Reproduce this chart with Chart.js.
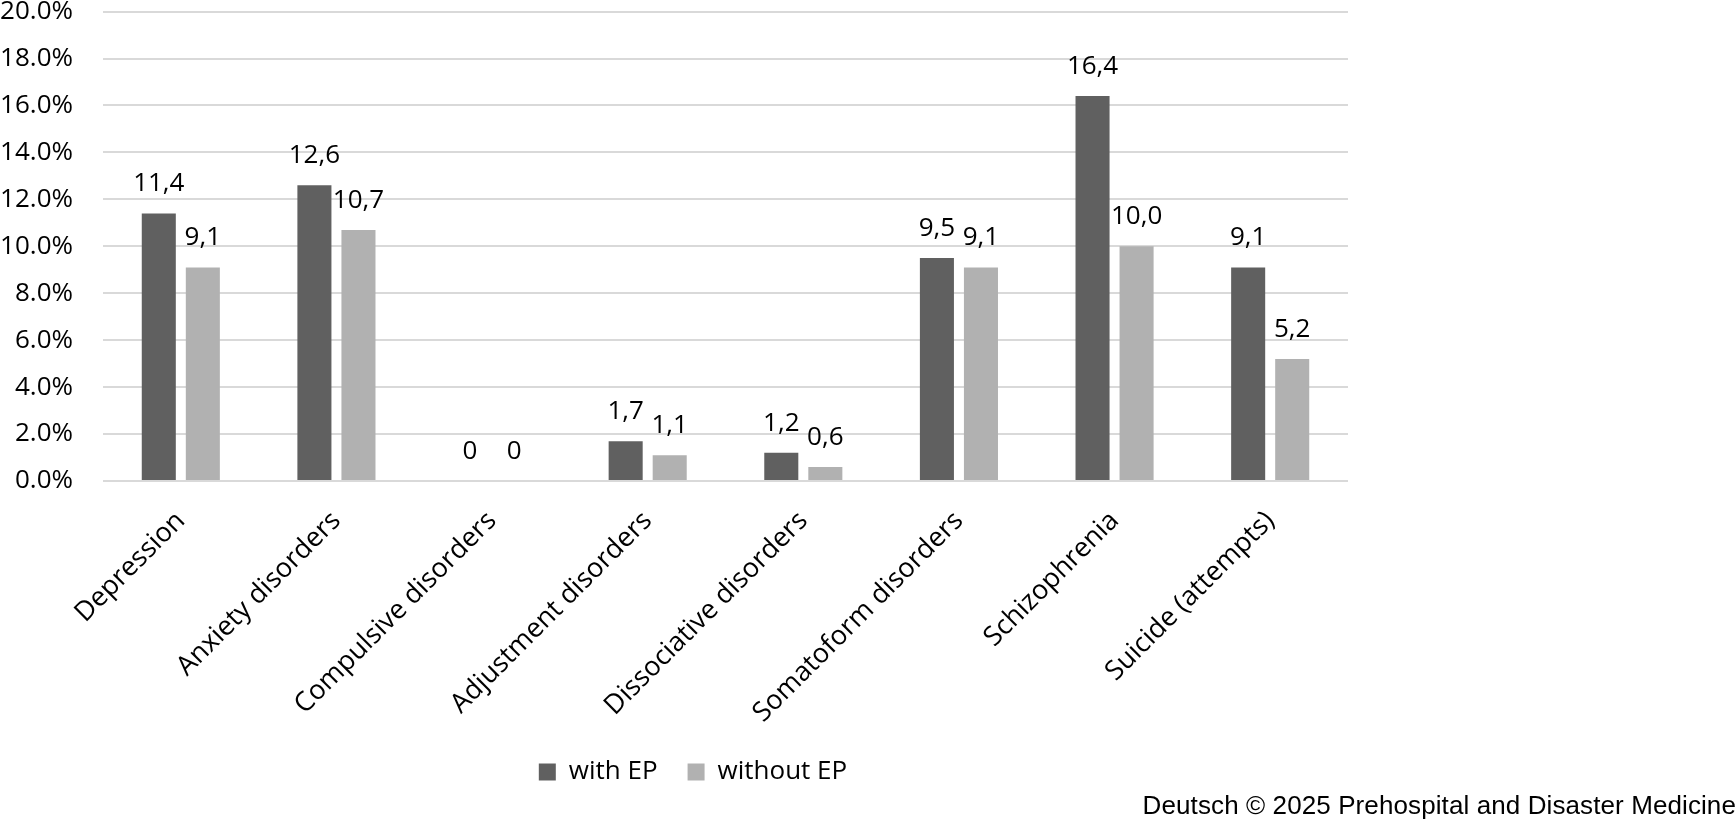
<!DOCTYPE html>
<html lang="en">
<head>
  <meta charset="UTF-8" />
  <title>EP chart</title>
  <script src="https://cdn.jsdelivr.net/npm/chart.js"></script>
  <style>
    * { box-sizing: border-box; margin: 0; padding: 0 }
    body { background: #fff; width: 1736px; height: 821px; position: relative; overflow: hidden }
    #wrap { position: absolute; left: 0; top: -34px; width: 1378px; height: 834px }
    .credit {
      position: absolute; right: 0; top: 792px; line-height: 1;
      font-family: 'Liberation Sans', Arial, sans-serif; font-size: 26px; color: #000;
      letter-spacing: 0.1px; white-space: nowrap
    }
  </style>
</head>
<body>
  <div id="wrap"><canvas id="grafico"></canvas></div>
  <div class="credit">Deutsch © 2025 Prehospital and Disaster Medicine</div>
  <script>
    const categories = ['Depression', 'Anxiety disorders', 'Compulsive disorders', 'Adjustment disorders',
      'Dissociative disorders', 'Somatoform disorders', 'Schizophrenia', 'Suicide (attempts)'];
    const withEP = [11.4, 12.6, 0, 1.7, 1.2, 9.5, 16.4, 9.1];
    const withoutEP = [9.1, 10.7, 0, 1.1, 0.6, 9.1, 10.0, 5.2];
    const yTicks = [0, 2, 4, 6, 8, 10, 12, 14, 16, 18, 20];

    const fuente = "'Open Sans', 'DejaVu Sans', sans-serif";
    const tam = 26;

    // valores encima de cada barra, con coma decimal
    const etiquetas = {
      id: 'etiquetas',
      afterDatasetsDraw(chart) {
        const { ctx } = chart;
        ctx.save();
        ctx.font = tam + 'px ' + fuente;
        ctx.fillStyle = '#000';
        ctx.textAlign = 'center';
        ctx.textBaseline = 'alphabetic';
        chart.data.datasets.forEach((ds, i) => {
          chart.getDatasetMeta(i).data.forEach((bar, j) => {
            const v = ds.data[j];
            const txt = v === 0 ? '0' : v.toFixed(1).replace('.', ',');
            ctx.fillText(txt, bar.x, bar.y - 22);
          });
        });
        ctx.restore();
      }
    };

    // corre la leyenda un poco a la derecha, como en el original
    const moverLeyenda = {
      id: 'moverLeyenda',
      afterLayout(chart) {
        chart.legend.left += 19;
        chart.legend.right += 19;
      }
    };

    new Chart(document.getElementById('grafico'), {
      type: 'bar',
      data: {
        labels: categories,
        datasets: [
          { label: 'with EP', data: withEP, backgroundColor: '#606060', categoryPercentage: 0.566, barPercentage: 0.773 },
          { label: 'without EP', data: withoutEP, backgroundColor: '#b1b1b1', categoryPercentage: 0.566, barPercentage: 0.773 }
        ]
      },
      options: {
        responsive: true,
        maintainAspectRatio: false,
        animation: false,
        layout: { padding: { top: 0, right: 30, bottom: 5, left: 0 } },
        plugins: {
          legend: {
            position: 'bottom',
            labels: {
              font: { family: fuente, size: tam }, color: '#000',
              boxWidth: 17, boxHeight: 17, padding: 30
            }
          },
          tooltip: { enabled: false }
        },
        scales: {
          x: {
            grid: { display: false },
            border: { display: false },
            ticks: {
              font: { family: fuente, size: 27 }, color: '#000',
              maxRotation: 45, minRotation: 45, padding: 16
            },
            afterFit: s => { s.paddingLeft = 0; s.paddingRight = 0; s.height -= 16; }
          },
          y: {
            min: 0, max: 20,
            afterBuildTicks: axis => { axis.ticks = yTicks.map(v => ({ value: v })); },
            grid: { color: '#d9d9d9', lineWidth: 2, drawTicks: false },
            border: { display: false },
            ticks: {
              font: { family: fuente, size: tam }, color: '#000', padding: 30,
              callback: v => v.toFixed(1) + '%'
            },
            afterFit: s => { s.width = 103; }
          }
        }
      },
      plugins: [etiquetas, moverLeyenda]
    });
  </script>
</body>
</html>
